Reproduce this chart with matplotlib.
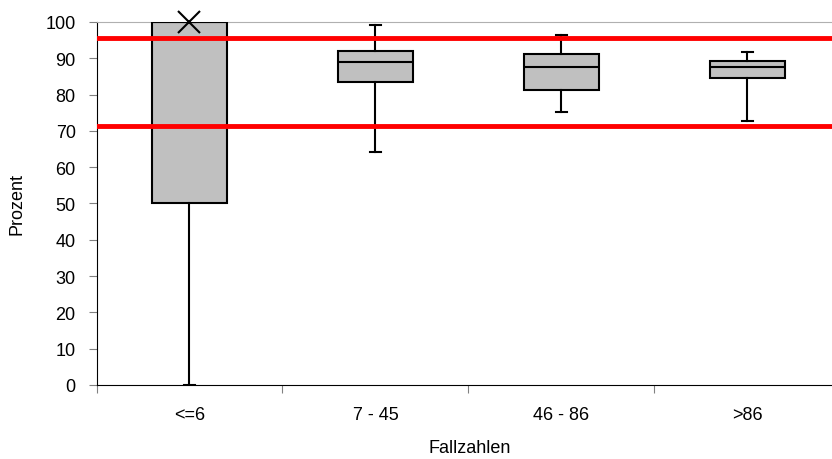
import matplotlib
matplotlib.use("Agg")
import matplotlib.pyplot as plt

plt.rcParams['font.family'] = ['Liberation Sans', 'DejaVu Sans']

categories = ["<=6", "7 - 45", "46 - 86", ">86"]
whislo = [0.0, 64.2, 75.1, 72.8]
q1 = [50.0, 83.4, 81.3, 84.7]
med = [100.0, 89.1, 87.5, 87.5]
q3 = [100.0, 91.9, 91.2, 89.3]
whishi = [100.0, 99.2, 96.5, 91.8]
extreme_x = [100.0]  # X marker for first group
ref_lines = [95.5, 71.4]

fig = plt.figure(figsize=(8.32, 4.60), dpi=100)
ax = fig.add_axes([0.116, 0.161, 0.894, 0.789])

stats = []
for i, c in enumerate(categories):
    stats.append(dict(label=c, whislo=whislo[i], q1=q1[i], med=med[i],
                      q3=q3[i], whishi=whishi[i], fliers=[]))
positions = [i + 0.5 for i in range(len(categories))]
ax.bxp(stats, positions=positions, widths=0.4, patch_artist=True,
       showfliers=False, capwidths=0.06,
       boxprops=dict(facecolor='#c0c0c0', edgecolor='black', linewidth=1.5),
       medianprops=dict(color='black', linewidth=1.5),
       whiskerprops=dict(color='black', linewidth=1.5),
       capprops=dict(color='black', linewidth=1.5), zorder=3)

ax.plot([positions[0]] * len(extreme_x), extreme_x, marker='x', color='black',
        markersize=16, markeredgewidth=1.5, linestyle='none', zorder=5,
        clip_on=False)

for v in ref_lines:
    ax.axhline(v, color='#ff0000', linewidth=3.5, zorder=4)

ax.set_xlim(0, 4)
ax.set_ylim(0, 100)
ax.set_yticks(range(0, 101, 10))
ax.set_xticks([0, 1, 2, 3, 4])
ax.set_xticklabels([])
ax.set_xticks(positions, minor=True)
ax.set_xticklabels(categories, minor=True)
ax.tick_params(axis='x', which='minor', length=0, pad=15, labelsize=13)
ax.tick_params(axis='x', which='major', length=6, color='#808080', direction='out')
ax.tick_params(axis='y', length=6, color='#808080', labelsize=13, pad=9)

ax.spines['right'].set_visible(False)
ax.spines['top'].set_color('#b0b0b0')
ax.spines['left'].set_color('black')
ax.spines['bottom'].set_color('black')

ax.set_ylabel("Prozent", fontsize=13)
ax.set_xlabel("Fallzahlen", fontsize=13)
ax.xaxis.set_label_coords(0.502, -0.148)
ax.yaxis.set_label_coords(-0.096, 0.5)

fig.savefig("out.png", dpi=100)
